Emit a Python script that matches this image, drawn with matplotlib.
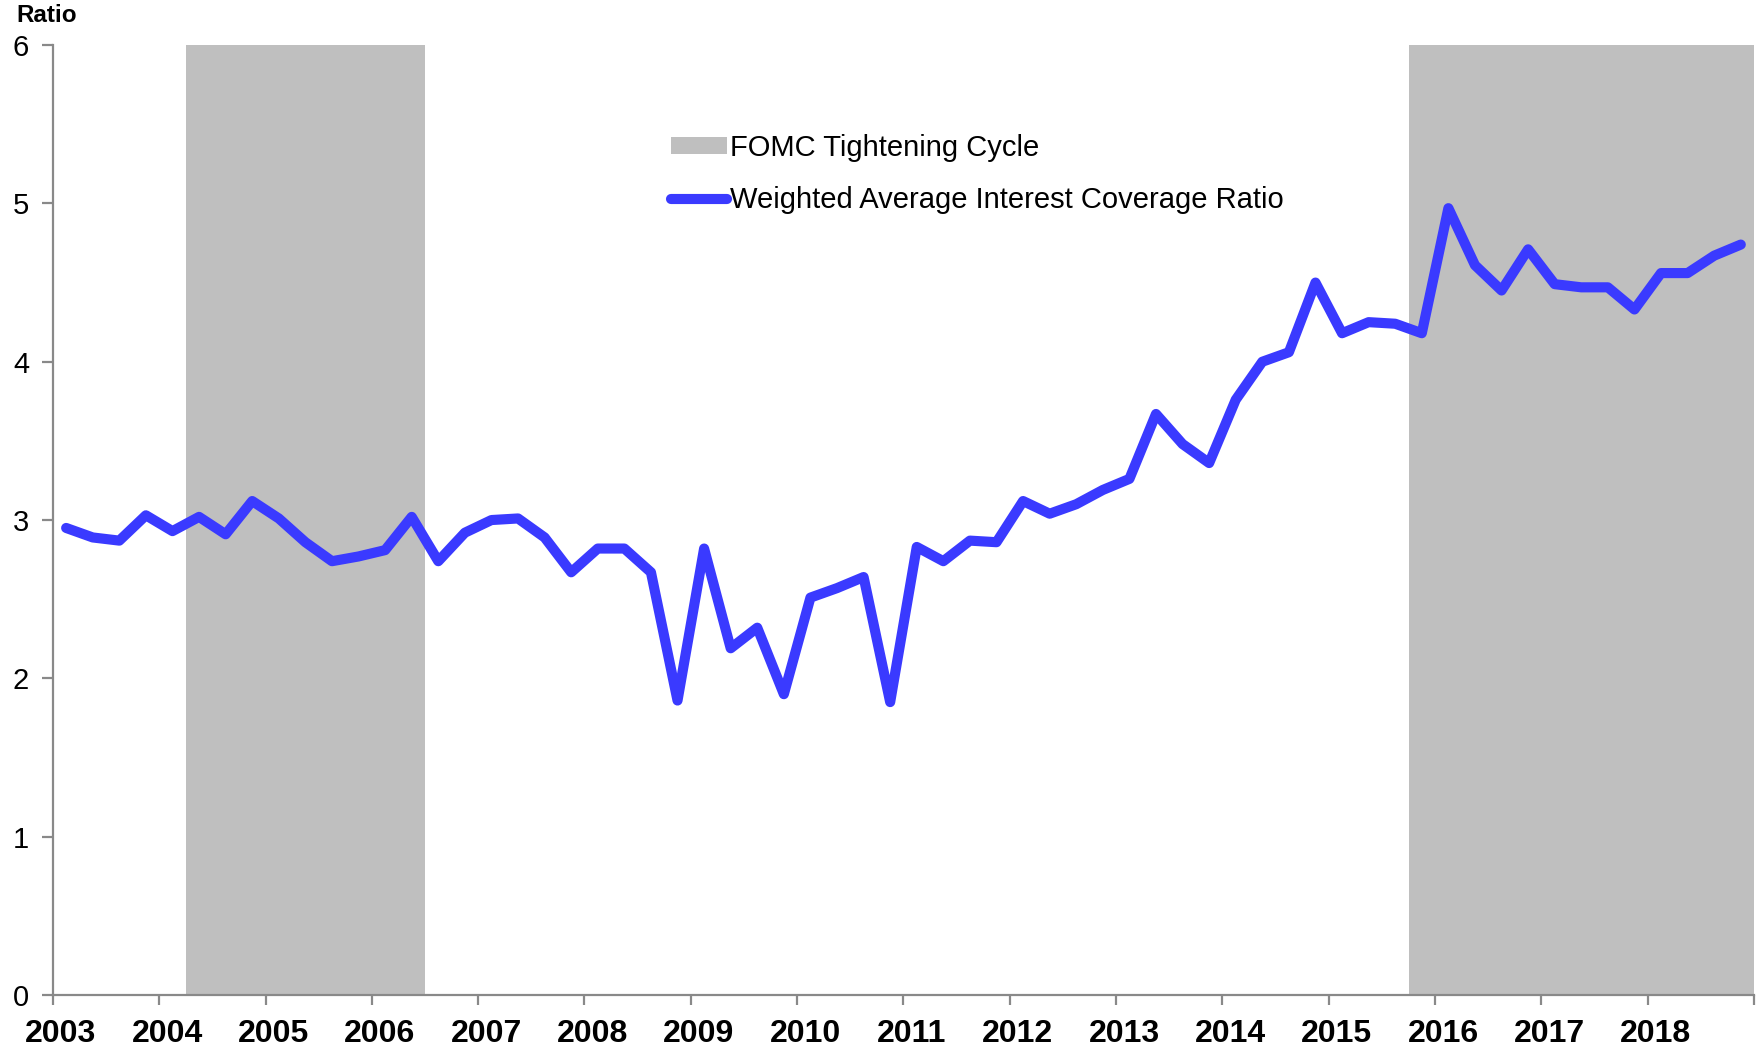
import matplotlib
matplotlib.use("Agg")
import matplotlib.pyplot as plt
import matplotlib.transforms as mtransforms
from matplotlib.patches import Patch
from matplotlib.lines import Line2D

# quarterly values, 2003Q1 .. 2018Q4
years = list(range(2003, 2019))
ratio = [2.95, 2.89, 2.87, 3.03, 2.93, 3.02, 2.91, 3.12,
         3.01, 2.86, 2.74, 2.77, 2.81, 3.02, 2.74, 2.92,
         3.00, 3.01, 2.89, 2.67, 2.82, 2.82, 2.67, 1.86,
         2.82, 2.19, 2.32, 1.90, 2.51, 2.57, 2.64, 1.85,
         2.83, 2.74, 2.87, 2.86, 3.12, 3.04, 3.10, 3.19,
         3.26, 3.67, 3.48, 3.36, 3.76, 4.00, 4.06, 4.50,
         4.18, 4.25, 4.24, 4.18, 4.97, 4.61, 4.45, 4.71,
         4.49, 4.47, 4.47, 4.33, 4.56, 4.56, 4.67, 4.74]
# tightening cycles (start, end) in fractional years
cycles = [(2004.25, 2006.5), (2015.75, 2019.0)]

x = [years[0] + (i + 0.5) / 4.0 for i in range(len(ratio))]

plt.rcParams['font.family'] = ['Liberation Sans', 'DejaVu Sans']
axcol = '#898989'
blue = '#3a3aff'
shade = '#bfbfbf'

fig = plt.figure(figsize=(17.62, 10.49), dpi=100)
ax = fig.add_axes([0.030, 0.0515, 0.9655, 0.9055])

for s, e in cycles:
  ax.axvspan(s, e, color=shade, lw=0, zorder=1)
ax.plot(x, ratio, color=blue, lw=7.3, solid_joinstyle='round',
        solid_capstyle='round', zorder=3)

ax.set_xlim(2003, 2019)
ax.set_ylim(0, 6)
ax.set_yticks(range(0, 7))
ax.set_xticks(years + [2019])
ax.set_xticklabels([str(y) for y in years] + [''])

for sp in ['top', 'right']:
  ax.spines[sp].set_visible(False)
for sp in ['left', 'bottom']:
  ax.spines[sp].set_color(axcol)
  ax.spines[sp].set_linewidth(1.6)
  ax.spines[sp].set_zorder(4)

ax.tick_params(axis='y', length=8, width=1.6, color=axcol, pad=9,
               labelsize=21, labelcolor='black')
ax.tick_params(axis='x', length=7.5, width=1.6, color=axcol, pad=10,
               labelsize=23, labelcolor='black')
off = mtransforms.ScaledTranslation(8 / 100.0, 0, fig.dpi_scale_trans)
for lab in ax.get_xticklabels():
  lab.set_fontweight('bold')
  lab.set_transform(lab.get_transform() + off)

fig.text(0.0095, 0.985, 'Ratio', fontsize=17.5, fontweight='bold',
         ha='left', va='center')

handles = [Patch(facecolor=shade, edgecolor='none'),
           Line2D([0], [0], color=blue, lw=7.3, solid_capstyle='round')]
labels = ['FOMC Tightening Cycle', 'Weighted Average Interest Coverage Ratio']
leg = ax.legend(handles, labels, loc='center left',
                bbox_to_anchor=(0.366, 0.834), bbox_transform=fig.transFigure,
                frameon=False, fontsize=21, handlelength=1.92,
                handleheight=0.5, handletextpad=0.1, labelspacing=0.83)

fig.savefig('out.png', dpi=100)
